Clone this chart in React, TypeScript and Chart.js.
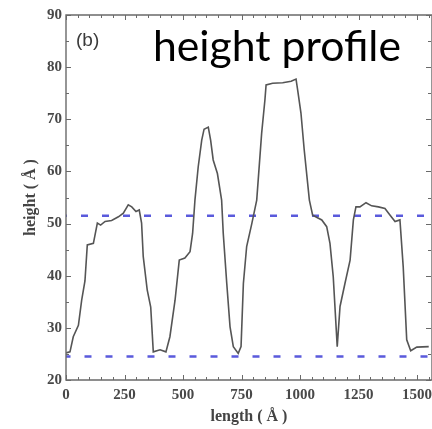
import React, { useEffect, useRef } from "react";
import { Chart, registerables } from "chart.js";

Chart.register(...registerables);

const lengths = [0, 17, 31, 53, 67, 81, 91, 117, 134, 148, 167, 195, 224, 245, 266, 281, 299, 313, 323, 330, 347, 362, 373, 402, 427, 444, 466, 484, 508, 530, 541, 551, 565, 580, 590, 608, 618, 629, 647, 665, 672, 687, 701, 715, 736, 748, 758, 772, 794, 815, 836, 850, 855, 883, 926, 962, 983, 990, 1004, 1018, 1040, 1054, 1093, 1114, 1128, 1142, 1159, 1171, 1192, 1214, 1228, 1239, 1256, 1282, 1306, 1335, 1363, 1385, 1406, 1427, 1441, 1456, 1473, 1499, 1550];
const heights = [25.2, 25.4, 28.3, 30.5, 35.3, 39, 45.9, 46.2, 50.1, 49.7, 50.4, 50.6, 51.3, 52, 53.6, 53.2, 52.3, 52.6, 50.1, 43.7, 37.3, 34, 25.4, 25.8, 25.4, 28.3, 35.3, 43, 43.4, 44.6, 48.1, 54.5, 60.9, 66, 68.1, 68.5, 66, 62.2, 59.6, 54.5, 48.1, 38.5, 30.2, 26.4, 25.1, 26.4, 38.5, 45.6, 50, 54.5, 67.3, 73.7, 76.6, 76.9, 77, 77.3, 77.7, 75.6, 71.2, 64.1, 54.5, 51.6, 50.7, 49.4, 46.2, 39.8, 26.4, 34.1, 38.5, 43, 50.7, 53.2, 53.2, 54, 53.4, 53.2, 52.9, 51.6, 50.4, 50.7, 41.7, 27.7, 25.6, 26.3, 26.4];

const upperLevel = 51.5;
const lowerLevel = 24.5;
const xTicks = [0, 250, 500, 750, 1000, 1250, 1500];
const yTicks = [20, 30, 40, 50, 60, 70, 80, 90];
const xMin = 0;
const xMax = 1564;
const yMin = 20;
const yMax = 90;
const titleText = "height profile";
const panelLabel = "(b)";
const xTitle = "length ( Å )";
const yTitle = "height ( Å )";

const framePlugin = {
  id: "frame",
  afterDatasetsDraw(chart: any) {
    const { ctx, chartArea: a, scales } = chart;
    const xs = scales.x;
    const ys = scales.y;
    ctx.save();
    ctx.strokeStyle = "#6a6a6a";
    ctx.lineWidth = 1.4;
    ctx.beginPath();
    ctx.rect(a.left, a.top, a.right - a.left, a.bottom - a.top);
    ctx.stroke();
    ctx.lineWidth = 1;
    ctx.beginPath();
    for (let v = xMin; v <= xMax; v += 50) {
      const px = Math.round(xs.getPixelForValue(v)) + 0.5;
      const len = v % 250 === 0 ? 5 : 3;
      ctx.moveTo(px, a.bottom);
      ctx.lineTo(px, a.bottom - len);
      ctx.moveTo(px, a.top);
      ctx.lineTo(px, a.top + len);
    }
    for (let v = yMin; v <= yMax; v += 5) {
      const py = Math.round(ys.getPixelForValue(v)) + 0.5;
      const len = v % 10 === 0 ? 5 : 3;
      ctx.moveTo(a.left, py);
      ctx.lineTo(a.left + len, py);
      ctx.moveTo(a.right - 1, py);
      ctx.lineTo(a.right - 1 - len, py);
    }
    ctx.stroke();
    ctx.restore();
  },
  afterDraw(chart: any) {
    const { ctx, chartArea: a } = chart;
    ctx.save();
    ctx.textBaseline = "alphabetic";
    ctx.textAlign = "left";
    ctx.fillStyle = "#3a3a3a";
    ctx.font = "19px 'Liberation Sans'";
    ctx.fillText(panelLabel, a.left + 10, 46);
    ctx.fillStyle = "#000000";
    ctx.font = "100px Lato";
    const w = ctx.measureText(titleText).width;
    const size = (100 * 248) / w;
    ctx.font = `${size}px Lato`;
    ctx.fillText(titleText, 153, 61);
    ctx.restore();
  },
};

export default function App() {
  const ref = useRef<HTMLCanvasElement>(null);
  useEffect(() => {
    if (!ref.current) return;
    const chart = new Chart(ref.current, {
      type: "line",
      data: {
        datasets: [
          {
            data: lengths.map((x, i) => ({ x, y: heights[i] })),
            borderColor: "#555555",
            borderWidth: 1.6,
            pointRadius: 0,
            tension: 0,
            fill: false,
          },
          {
            data: [
              { x: xMin, y: upperLevel },
              { x: xMax, y: upperLevel },
            ],
            borderColor: "#5a5adc",
            borderWidth: 2.5,
            borderDash: [7, 14],
            borderDashOffset: 6,
            pointRadius: 0,
            fill: false,
          },
          {
            data: [
              { x: xMin, y: lowerLevel },
              { x: xMax, y: lowerLevel },
            ],
            borderColor: "#5a5adc",
            borderWidth: 2.5,
            borderDash: [7, 14],
            borderDashOffset: 2.5,
            pointRadius: 0,
            fill: false,
          },
        ],
      },
      options: {
        animation: false,
        responsive: false,
        devicePixelRatio: 1,
        layout: { padding: { top: 15, right: 0, left: 0, bottom: 0 } },
        plugins: { legend: { display: false }, tooltip: { enabled: false }, title: { display: false } },
        scales: {
          x: {
            type: "linear",
            min: xMin,
            max: xMax,
            grid: { display: false, drawTicks: false, tickLength: 0 },
            border: { display: false },
            afterBuildTicks: (s: any) => {
              s.ticks = xTicks.map((v) => ({ value: v }));
            },
            afterFit: (s: any) => {
              s.height = 49;
              s.paddingLeft = 0;
              s.paddingRight = 0;
            },
            ticks: {
              padding: 6,
              maxRotation: 0,
              autoSkip: false,
              color: "#484848",
              callback: (v: any) => String(v),
              font: { family: "'Liberation Serif'", size: 15, weight: "bold" },
            },
            title: {
              display: true,
              text: xTitle,
              color: "#444",
              padding: { top: 3, bottom: 3 },
              font: { family: "'Liberation Serif'", size: 16, weight: "bold" },
            },
          },
          y: {
            type: "linear",
            min: yMin,
            max: yMax,
            grid: { display: false, drawTicks: false, tickLength: 0 },
            border: { display: false },
            afterBuildTicks: (s: any) => {
              s.ticks = yTicks.map((v) => ({ value: v }));
            },
            afterFit: (s: any) => {
              s.width = 66;
              s.paddingTop = 0;
              s.paddingBottom = 0;
            },
            ticks: {
              padding: 4,
              color: "#484848",
              callback: (v: any) => String(v),
              font: { family: "'Liberation Serif'", size: 15, weight: "bold" },
            },
            title: {
              display: true,
              text: yTitle,
              color: "#444",
              padding: { top: 21, bottom: 21 },
              font: { family: "'Liberation Serif'", size: 16, weight: "bold" },
            },
          },
        },
      },
      plugins: [framePlugin],
    });
    return () => chart.destroy();
  }, []);
  return (
    <div style={{ position: "fixed", left: 0, top: 0, width: 432, height: 429, background: "#fff" }}>
      <canvas ref={ref} width={432} height={429} style={{ width: 432, height: 429, display: "block" }} />
    </div>
  );
}
